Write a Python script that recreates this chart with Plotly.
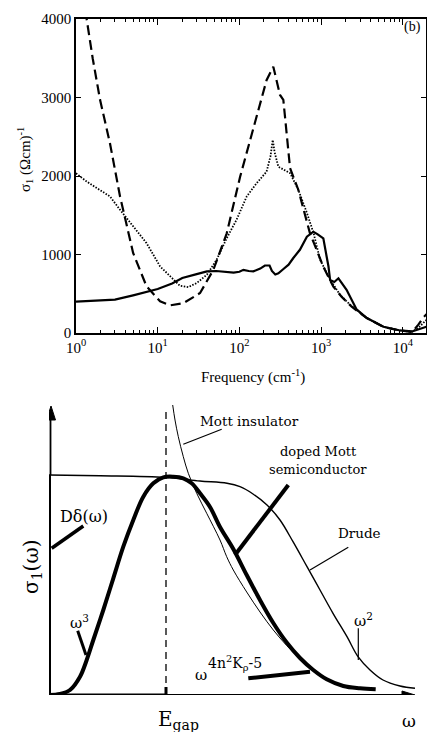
import plotly.graph_objects as go

# ---------------- panel (b): measured optical conductivity ----------------
solid_freq = [1, 1.5, 2, 3, 5, 8, 10, 15, 20, 30, 40, 52, 70, 85, 100, 112, 130, 148, 180, 205,
              234, 250, 275, 300, 346, 400, 457, 550, 670, 740, 804, 900, 1065, 1170, 1230, 1290,
              1450, 1630, 2050, 2720, 3630, 5800, 9000, 13000, 16300, 19600]
solid_sigma = [400, 410, 420, 425, 480, 530, 560, 630, 700, 750, 785, 790, 780, 770, 780, 805, 790,
               785, 820, 860, 860, 790, 745, 760, 815, 870, 955, 1060, 1227, 1260, 1290, 1260, 1206,
               972, 850, 675, 650, 697, 550, 300, 190, 80, 35, 20, 55, 80]

dash_freq = [1.25, 1.35, 1.6, 1.97, 2.6, 3.46, 5.0, 7.3, 10.7, 14.2, 20.6, 33, 48, 70, 102, 149,
             215, 260, 314, 345, 397, 417, 527, 731, 883, 1064, 1413, 1780, 2370, 3630, 5800,
             9000, 13000, 15500, 17900, 20000]
dash_sigma = [4300, 4000, 3500, 2970, 2420, 1740, 1020, 594, 403, 352, 380, 509, 805, 1270, 1990,
              2630, 3220, 3393, 3032, 2970, 2331, 2100, 1822, 1270, 1057, 845, 590, 462, 335, 190,
              76, 34, 12, 106, 200, 250]

dot_freq = [1, 1.35, 1.97, 2.6, 3.46, 5.0, 7.3, 10.7, 14.2, 18.7, 23.7, 30, 40, 52.6, 70, 92, 123,
            163, 215, 240, 256, 270, 300, 418, 527, 670, 810, 970, 1290, 1700, 2260, 3630, 5800,
            9000, 13000, 16000, 19600]
dot_sigma = [2035, 1930, 1820, 1740, 1570, 1357, 1145, 848, 720, 602, 585, 636, 742, 933, 1208,
             1440, 1740, 1910, 2055, 2250, 2459, 2300, 2118, 2035, 1822, 1530, 1270, 935, 680, 488,
             360, 190, 80, 34, 15, 80, 170]

x_major = [1, 10, 100, 1000, 10000]
x_major_text = ["10<sup>0</sup>", "10<sup>1</sup>", "10<sup>2</sup>", "10<sup>3</sup>", "10<sup>4</sup>"]
x_minor = [m * d for d in [1, 10, 100, 1000, 10000] for m in range(2, 10)]
y_major = [0, 1000, 2000, 3000, 4000]

# ---------------- schematic: sigma_1(omega) sketches (arbitrary units) ----------------
drude_w = [0, 51, 116, 151, 178, 191, 204, 218, 231, 244, 258, 271, 284, 298, 309, 321, 334, 351, 366]
drude_s = [220, 219.3, 217.7, 214, 211.7, 208.3, 201, 190, 175, 153.3, 128.3, 105, 81.7, 58.3, 38.3,
           25, 15, 9, 6.7]

mott_w = [123.7, 126, 129.3, 134.3, 139.3, 147.7, 157.7, 171, 177.7, 184.3, 197.7, 211, 224.3, 237.7, 251]
mott_s = [290, 275, 258.3, 238.3, 221.7, 201.7, 181.7, 155, 138.3, 125, 103, 83, 65, 49.5, 36.5]

doped_w = [0, 11, 21, 31, 37.7, 44.3, 54.3, 64.3, 74.3, 84.3, 94.3, 104.3, 114.3, 124.3, 134.3,
           142.7, 151, 161, 171, 184.3, 197.7, 211, 224.3, 237.7, 251, 264.3, 277.7, 294.3, 311, 326.7]
doped_s = [0, 1, 5, 18.3, 35, 55, 85, 116.7, 148.3, 175, 198.3, 211.7, 217.7, 218.3, 216.7,
           211.7, 201.7, 188, 168, 146, 120, 95, 72, 52.5, 37, 25, 15.7, 9, 6.7, 5.7]

E_gap = 117
drude_level = 220
w_max = 366
s_max = 288

SERIF_T = "Liberation Serif, Times New Roman, Times, serif"
SERIF_B = "DejaVu Serif, Liberation Serif, serif"

fig = go.Figure()

fig.add_trace(go.Scatter(x=solid_freq, y=solid_sigma, mode="lines",
                         line=dict(color="black", width=2.2), xaxis="x", yaxis="y"))
fig.add_trace(go.Scatter(x=dash_freq, y=dash_sigma, mode="lines",
                         line=dict(color="black", width=2.2, dash="10px,5px"), xaxis="x", yaxis="y"))
fig.add_trace(go.Scatter(x=dot_freq, y=dot_sigma, mode="lines",
                         line=dict(color="black", width=1.8, dash="1.5px,1.5px"), xaxis="x", yaxis="y"))

fig.add_trace(go.Scatter(x=drude_w, y=drude_s, mode="lines", line_shape="spline",
                         line=dict(color="black", width=1.4), xaxis="x2", yaxis="y2"))
fig.add_trace(go.Scatter(x=mott_w, y=mott_s, mode="lines", line_shape="spline",
                         line=dict(color="black", width=1.0), xaxis="x2", yaxis="y2"))
fig.add_trace(go.Scatter(x=doped_w, y=doped_s, mode="lines", line_shape="spline",
                         line=dict(color="black", width=4), xaxis="x2", yaxis="y2"))

shapes = []
def seg(x0, y0, x1, y1, w, dash="solid"):
    shapes.append(dict(type="line", xref="x2", yref="y2", x0=x0, y0=y0, x1=x1, y1=y1,
                       line=dict(color="black", width=w, dash=dash)))

# axes of schematic
seg(0, 0, 0, drude_level, 4)
seg(1.5, drude_level, 1.5, s_max - 10, 1.8)
seg(0, 0, E_gap, 0, 3)
seg(E_gap, 0, w_max - 10, 0, 2)
seg(E_gap, 0, E_gap, 8, 3)
seg(E_gap, 0, E_gap, s_max, 1.3, dash="7px,5px")
shapes.append(dict(type="path", xref="x2", yref="y2",
                   path=f"M {w_max} 0 L {w_max-13} 4 L {w_max-13} -4 Z",
                   fillcolor="black", line=dict(color="black", width=1)))
shapes.append(dict(type="path", xref="x2", yref="y2",
                   path=f"M 2 {s_max+1} L -2.5 {s_max-13} L 6.5 {s_max-13} Z",
                   fillcolor="black", line=dict(color="black", width=1)))
# pointer lines
seg(134.3, 250.7, 172.7, 265.7, 1.2)        # Mott insulator
seg(186, 140, 239.3, 210, 4)                 # doped Mott semiconductor
seg(2.7, 146.7, 34.3, 169, 3.5)              # D delta
seg(261, 125, 299.3, 147.7, 1.2)             # Drude
seg(309.3, 35, 309.3, 66.7, 1.2)             # omega^2
seg(28.7, 64.3, 37, 40, 3)                   # omega^3
seg(199.3, 16.7, 261, 23.3, 4)               # omega^(4n^2K-5)

ann = []
def ptext(txt, px, py, size, font=SERIF_T, angle=0, xanchor="center"):
    ann.append(dict(text=txt, xref="paper", yref="paper", x=px / 427, y=1 - py / 732,
                    showarrow=False, textangle=angle, xanchor=xanchor, yanchor="middle",
                    font=dict(family=font, size=size, color="black")))
def dtext(txt, x, y, size, xanchor="center"):
    ann.append(dict(text=txt, xref="x2", yref="y2", x=x, y=y, showarrow=False,
                    xanchor=xanchor, yanchor="middle",
                    font=dict(family=SERIF_B, size=size, color="black")))

ptext("(b)", 412, 27, 14)
ptext("σ<sub>1</sub> (Ωcm)<sup>-1</sup>", 25, 160, 15, angle=-90)
ptext("Frequency (cm<sup>-1</sup>)", 253, 376, 15)

dtext("Mott insulator", 200.7, 274.3, 13.5)
dtext("doped Mott", 269.3, 243.3, 13)
dtext("semiconductor", 269, 225.7, 13)
dtext("Dδ(ω)", 34.7, 178.3, 16)
dtext("Drude", 310.7, 161.7, 13.5)
dtext("ω<sup>2</sup>", 302.7, 75, 15, xanchor="left")
dtext("ω<sup>3</sup>", 19.3, 73.3, 15, xanchor="left")
dtext("ω", 144, 20, 15, xanchor="left")
dtext("4n<sup>2</sup>K<sub>ρ</sub>-5", 157, 31.7, 14, xanchor="left")
ptext("E<sub>gap</sub>", 178, 720, 20, font=SERIF_B)
ptext("ω", 409, 721, 17, font=SERIF_B)
ptext("σ<sub>1</sub>(ω)", 32, 567, 20, font=SERIF_B, angle=-90)

fig.update_layout(
    width=427, height=732, margin=dict(l=0, r=0, t=0, b=0, autoexpand=False),
    paper_bgcolor="white", plot_bgcolor="white", showlegend=False,
    font=dict(family=SERIF_T, color="black"),
    shapes=shapes, annotations=ann,
    xaxis=dict(type="log", domain=[76 / 427, 426 / 427], range=[0, 4.284], anchor="y",
               tickmode="array", tickvals=x_major, ticktext=x_major_text,
               ticks="inside", ticklen=6, tickwidth=1, tickcolor="black",
               minor=dict(tickmode="array", tickvals=x_minor, ticks="inside", ticklen=3,
                          tickwidth=1, tickcolor="black", showgrid=False),
               showline=True, linecolor="black", linewidth=1.5, mirror="ticks",
               showgrid=False, zeroline=False, automargin=False,
               tickfont=dict(family=SERIF_T, size=15, color="black")),
    yaxis=dict(domain=[1 - 333 / 732, 1 - 19 / 732], range=[0, 4000], anchor="x",
               tickmode="array", tickvals=y_major,
               ticks="inside", ticklen=5, tickwidth=1, tickcolor="black",
               showline=True, linecolor="black", linewidth=1.5, mirror="ticks",
               showgrid=False, zeroline=False, automargin=False,
               tickfont=dict(family=SERIF_T, size=15, color="black")),
    xaxis2=dict(domain=[49 / 427, 419 / 427], range=[0, 370], anchor="y2", visible=False),
    yaxis2=dict(domain=[1 - 695 / 732, 1 - 395 / 732], range=[0, 300], anchor="x2", visible=False),
)

fig.write_html("out.html", config={"displayModeBar": False},
               post_script="document.body.style.margin='0px';")
